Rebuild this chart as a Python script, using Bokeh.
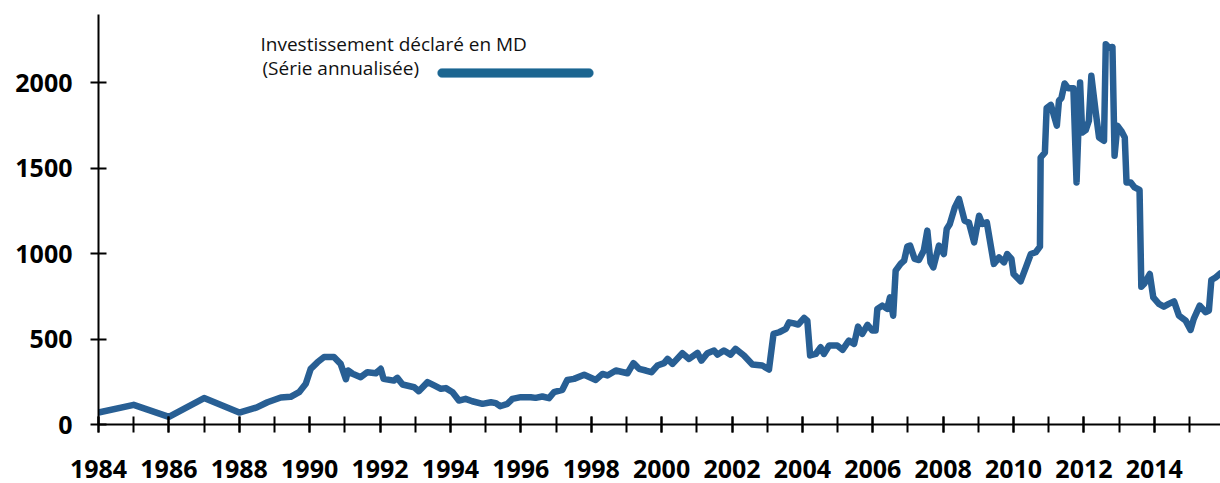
from bokeh.plotting import figure
from bokeh.models import Range1d, FixedTicker, Label, BoxAnnotation
from bokeh.embed import file_html
from bokeh.resources import INLINE

# Decimal years and annualised declared investment (MD)
dates = [
    1984.00, 1985.00, 1986.00, 1987.00, 1988.00, 1988.50, 1988.80, 1989.18, 1989.46, 1989.70,
    1989.89, 1990.03, 1990.22, 1990.41, 1990.69, 1990.88, 1991.03, 1991.09, 1991.22, 1991.45,
    1991.64, 1991.88, 1992.02, 1992.10, 1992.39, 1992.49, 1992.64, 1992.97, 1993.10, 1993.35,
    1993.55, 1993.73, 1993.87, 1994.06, 1994.24, 1994.43, 1994.62, 1994.91, 1995.15, 1995.29,
    1995.41, 1995.62, 1995.76, 1996.00, 1996.28, 1996.42, 1996.61, 1996.80, 1996.94, 1997.18,
    1997.32, 1997.51, 1997.80, 1998.13, 1998.32, 1998.46, 1998.70, 1999.03, 1999.20, 1999.36,
    1999.55, 1999.71, 1999.88, 2000.07, 2000.17, 2000.31, 2000.59, 2000.78, 2001.02, 2001.13,
    2001.30, 2001.49, 2001.59, 2001.77, 2001.96, 2002.10, 2002.34, 2002.58, 2002.86, 2003.05,
    2003.18, 2003.34, 2003.53, 2003.62, 2003.76, 2003.88, 2004.05, 2004.14, 2004.22, 2004.38,
    2004.52, 2004.61, 2004.76, 2004.99, 2005.14, 2005.32, 2005.47, 2005.58, 2005.70, 2005.85,
    2005.99, 2006.08, 2006.13, 2006.27, 2006.41, 2006.49, 2006.58, 2006.65, 2006.79, 2006.89,
    2006.98, 2007.06, 2007.19, 2007.31, 2007.45, 2007.55, 2007.64, 2007.72, 2007.88, 2008.02,
    2008.10, 2008.19, 2008.33, 2008.45, 2008.61, 2008.73, 2008.88, 2009.02, 2009.11, 2009.24,
    2009.44, 2009.59, 2009.73, 2009.82, 2009.94, 2010.00, 2010.20, 2010.35, 2010.49, 2010.63,
    2010.75, 2010.77, 2010.89, 2010.94, 2011.06, 2011.23, 2011.29, 2011.36, 2011.45, 2011.55,
    2011.70, 2011.79, 2011.89, 2011.95, 2012.05, 2012.14, 2012.21, 2012.33, 2012.43, 2012.57,
    2012.62, 2012.71, 2012.81, 2012.87, 2012.95, 2013.06, 2013.16, 2013.21, 2013.33, 2013.44,
    2013.58, 2013.63, 2013.72, 2013.87, 2013.97, 2014.13, 2014.27, 2014.41, 2014.56, 2014.70,
    2014.89, 2015.03, 2015.12, 2015.29, 2015.46, 2015.55, 2015.62, 2015.74, 2015.88,
]
invest = [
    70, 115, 45, 155, 70, 100, 130, 158, 162, 189,
    238, 326, 364, 395, 395, 355, 265, 316, 297, 277,
    306, 300, 326, 267, 257, 273, 234, 218, 195, 248,
    228, 209, 213, 189, 140, 150, 136, 121, 130, 125,
    107, 121, 150, 160, 160, 156, 164, 154, 189, 203,
    261, 267, 291, 261, 296, 287, 316, 300, 359, 326,
    316, 306, 345, 359, 384, 355, 417, 384, 419, 374,
    417, 433, 409, 433, 409, 443, 404, 351, 345, 322,
    530, 540, 560, 598, 592, 585, 624, 608, 404, 413,
    452, 413, 462, 462, 437, 491, 472, 573, 530, 583,
    550, 550, 677, 696, 677, 744, 637, 901, 940, 959,
    1041, 1047, 969, 963, 1018, 1135, 949, 920, 1047, 998,
    1144, 1174, 1271, 1320, 1193, 1183, 1066, 1222, 1174, 1183,
    940, 978, 949, 998, 969, 881, 838, 920, 998, 1008,
    1041, 1563, 1592, 1852, 1871, 1749, 1895, 1911, 1996, 1969,
    1969, 1417, 2002, 1709, 1723, 1778, 2041, 1836, 1680, 1661,
    2226, 2206, 2210, 1573, 1749, 1719, 1680, 1417, 1417, 1388,
    1373, 807, 826, 881, 744, 706, 690, 706, 721, 637,
    608, 554, 618, 696, 657, 667, 846, 861, 885,
]

label_years = list(range(1984, 2016, 2))
all_years = list(range(1984, 2016))
y_ticks = [0, 500, 1000, 1500, 2000]
legend_lines = ["Investissement déclaré en MD", "(Série annualisée)"]

p = figure(width=1220, height=483, output_backend="svg", toolbar_location=None,
           x_range=Range1d(1984, 2015.88), y_range=Range1d(0, 2400))
p.min_border_left = 98
p.min_border_right = 0
p.min_border_top = 14
p.min_border_bottom = 59
p.outline_line_color = None
p.xgrid.visible = False
p.ygrid.visible = False

p.line(dates, invest, line_width=6.5, color="#285F94", line_join="round", line_cap="round")

tick_font = "Open Sans"
for ax in (p.xaxis[0], p.yaxis[0]):
    ax.axis_line_color = "black"
    ax.axis_line_width = 2
    ax.major_tick_line_color = "black"
    ax.major_tick_line_width = 2
    ax.minor_tick_line_color = "black"
    ax.minor_tick_line_width = 2
    ax.major_tick_in = 8
    ax.major_tick_out = 8
    ax.major_label_text_font = tick_font
    ax.major_label_text_font_style = "bold"
    ax.major_label_text_font_size = "25px"
    ax.major_label_text_color = "black"

p.xaxis[0].ticker = FixedTicker(ticks=label_years, minor_ticks=all_years)
p.xaxis[0].minor_tick_in = 8
p.xaxis[0].minor_tick_out = 8
p.xaxis[0].major_label_standoff = 27
p.yaxis[0].ticker = FixedTicker(ticks=y_ticks, minor_ticks=[])
p.yaxis[0].minor_tick_in = 0
p.yaxis[0].minor_tick_out = 0
p.yaxis[0].major_label_standoff = 18

legend_font = "Open Sans"
p.add_layout(Label(x=162, y=381, x_units="screen", y_units="screen", text=legend_lines[0],
                   text_font=legend_font, text_font_size="19px", text_color="#111111",
                   text_baseline="alphabetic"))
p.add_layout(Label(x=164, y=357, x_units="screen", y_units="screen", text=legend_lines[1],
                   text_font=legend_font, text_font_size="19px", text_color="#111111",
                   text_baseline="alphabetic"))
p.add_layout(BoxAnnotation(left=339, right=495, bottom=347, top=356,
                           left_units="screen", right_units="screen",
                           bottom_units="screen", top_units="screen",
                           fill_color="#1B6590", fill_alpha=1.0, line_color="#4F8FB5",
                           line_width=1, border_radius=5))

open("out.html", "w").write(file_html(p, INLINE))
